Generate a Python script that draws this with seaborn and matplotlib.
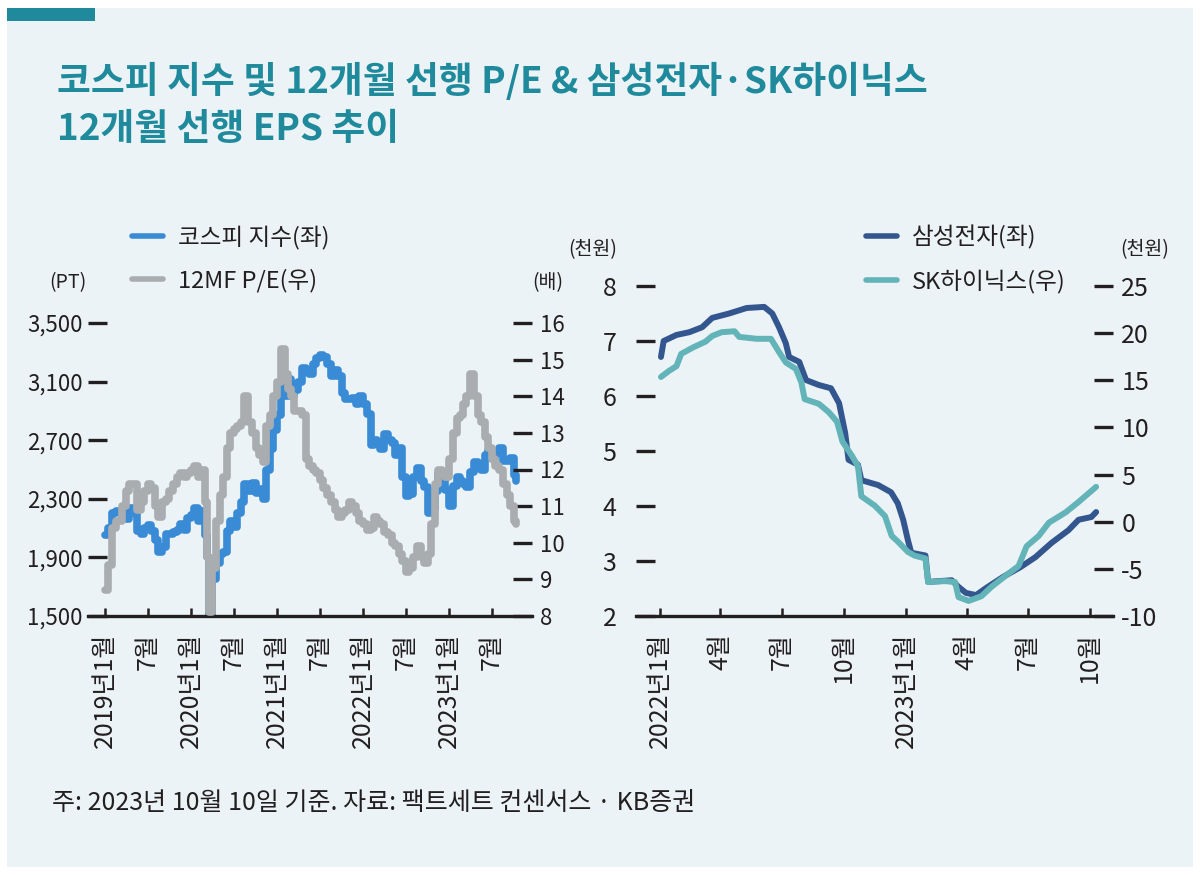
import matplotlib
matplotlib.use('Agg')
import matplotlib.pyplot as plt
from matplotlib.patches import Rectangle
from matplotlib.lines import Line2D
from matplotlib.ticker import FuncFormatter, FixedLocator
import seaborn as sns
import pandas as pd

# ---------------- data ----------------
left_dates = [
    '2019-01-01', '2019-01-15', '2019-02-01', '2019-02-15', '2019-03-01', '2019-03-15',
    '2019-04-01', '2019-04-15', '2019-05-01', '2019-05-15', '2019-06-01', '2019-06-15',
    '2019-07-01', '2019-07-15', '2019-08-01', '2019-08-15', '2019-09-01', '2019-09-15',
    '2019-10-01', '2019-10-15', '2019-11-01', '2019-11-15', '2019-12-01', '2019-12-15',
    '2020-01-01', '2020-01-15', '2020-02-01', '2020-02-15', '2020-03-01', '2020-03-10',
    '2020-03-19', '2020-04-01', '2020-04-15', '2020-05-01', '2020-05-15', '2020-06-01',
    '2020-06-15', '2020-07-01', '2020-07-15', '2020-08-01', '2020-08-15', '2020-09-01',
    '2020-09-15', '2020-10-01', '2020-10-15', '2020-11-01', '2020-11-15', '2020-12-01',
    '2020-12-15',
    '2021-01-01', '2021-01-15', '2021-02-01', '2021-02-15', '2021-03-01', '2021-03-15',
    '2021-04-01', '2021-04-15', '2021-05-01', '2021-05-15', '2021-06-01', '2021-06-15',
    '2021-07-01', '2021-07-15', '2021-08-01', '2021-08-15', '2021-09-01', '2021-09-15',
    '2021-10-01', '2021-10-15', '2021-11-01', '2021-11-15', '2021-12-01', '2021-12-15',
    '2022-01-01', '2022-01-15', '2022-02-01', '2022-02-15', '2022-03-01', '2022-03-15',
    '2022-04-01', '2022-04-15', '2022-05-01', '2022-05-15', '2022-06-01', '2022-06-15',
    '2022-07-01', '2022-07-15', '2022-08-01', '2022-08-15', '2022-09-01', '2022-09-15',
    '2022-10-01', '2022-10-15', '2022-11-01', '2022-11-15', '2022-12-01', '2022-12-15',
    '2023-01-01', '2023-01-15', '2023-02-01', '2023-02-15', '2023-03-01', '2023-03-15',
    '2023-04-01', '2023-04-15', '2023-05-01', '2023-05-15', '2023-06-01', '2023-06-15',
    '2023-07-01', '2023-07-15', '2023-08-01', '2023-08-15', '2023-09-01', '2023-09-15',
    '2023-10-01', '2023-10-10',
]
kospi = [
    2050, 2100, 2200, 2220, 2210, 2170, 2160, 2240, 2200, 2080, 2060, 2100,
    2120, 2080, 2020, 1940, 1970, 2060, 2060, 2070, 2090, 2130, 2090, 2170,
    2190, 2240, 2150, 2220, 2050, 1900, 1480, 1750, 1860, 1920, 1940, 2080,
    2150, 2110, 2200, 2280, 2400, 2350, 2410, 2340, 2370, 2300, 2500, 2640,
    2770,
    2870, 3100, 3000, 3120, 3000, 3040, 3100, 3190, 3180, 3150, 3220, 3260,
    3280, 3270, 3220, 3140, 3180, 3140, 3020, 2980, 2980, 2990, 2950, 3000,
    2950, 2880, 2670, 2700, 2680, 2640, 2740, 2700, 2680, 2600, 2650, 2450,
    2320, 2330, 2450, 2510, 2420, 2380, 2200, 2230, 2350, 2470, 2430, 2360,
    2250, 2390, 2450, 2420, 2400, 2380, 2480, 2550, 2520, 2500, 2600, 2630,
    2570, 2610, 2650, 2560, 2560, 2580, 2460, 2420,
]
pe_ratio = [
    8.7, 9.4, 10.4, 10.6, 10.6, 11.0, 11.4, 11.6, 11.6, 10.9, 11.1, 11.4,
    11.6, 11.5, 11.0, 10.7, 11.1, 11.2, 11.4, 11.6, 11.8, 11.9, 11.8, 11.9,
    12.0, 12.1, 11.8, 12.0, 11.1, 9.6, 8.1, 9.3, 10.6, 11.3, 11.8, 12.6,
    13.0, 13.1, 13.2, 13.3, 14.0, 13.3, 13.0, 12.6, 12.4, 12.2, 13.2, 13.5,
    14.0,
    14.4, 15.3, 14.6, 14.2, 14.0, 13.6, 13.6, 13.5, 12.3, 12.1, 12.0, 11.9,
    11.7, 11.5, 11.3, 11.1, 10.9, 10.7, 10.8, 10.9, 11.1, 11.0, 10.8, 10.6,
    10.5, 10.35, 10.4, 10.7, 10.6, 10.5, 10.3, 10.2, 10.0, 9.9, 9.7, 9.5,
    9.2, 9.3, 9.6, 9.9, 9.6, 9.45, 9.7, 10.5, 11.6, 12.0, 11.9, 11.8,
    12.3, 13.0, 13.4, 13.5, 13.8, 14.0, 14.6, 14.0, 13.5, 13.3, 12.9, 12.6,
    12.3, 12.1, 12.0, 11.6, 11.3, 11.0, 10.6, 10.5,
]

samsung_dates = [
    '2022-01-03', '2022-01-07', '2022-01-26', '2022-02-14', '2022-03-05', '2022-03-20',
    '2022-04-14', '2022-05-10', '2022-06-05', '2022-06-17', '2022-06-27', '2022-07-07',
    '2022-07-12', '2022-07-27', '2022-08-06', '2022-08-25', '2022-09-12', '2022-09-24',
    '2022-10-03', '2022-10-08', '2022-10-22', '2022-10-27', '2022-11-21', '2022-12-10',
    '2022-12-20', '2022-12-28', '2023-01-04', '2023-01-09', '2023-01-30', '2023-02-03',
    '2023-03-10', '2023-03-20', '2023-03-31', '2023-04-15', '2023-04-30', '2023-05-25',
    '2023-06-20', '2023-07-12', '2023-08-05', '2023-08-30', '2023-09-14', '2023-10-03',
    '2023-10-10',
]
samsung_eps = [
    6.71, 7.00, 7.11, 7.16, 7.25, 7.42, 7.50, 7.60, 7.62, 7.50, 7.25, 6.96,
    6.71, 6.62, 6.29, 6.20, 6.14, 5.87, 5.33, 4.84, 4.75, 4.47, 4.38, 4.25,
    4.05, 3.75, 3.38, 3.15, 3.10, 2.62, 2.65, 2.53, 2.42, 2.38, 2.51, 2.71,
    2.89, 3.07, 3.33, 3.56, 3.75, 3.80, 3.89,
]

hynix_dates = [
    '2022-01-03', '2022-01-15', '2022-01-26', '2022-02-02', '2022-02-20', '2022-03-10',
    '2022-03-20', '2022-04-03', '2022-04-22', '2022-04-29', '2022-05-25', '2022-06-15',
    '2022-06-27', '2022-07-07', '2022-07-22', '2022-07-30', '2022-08-04', '2022-08-25',
    '2022-09-09', '2022-09-21', '2022-09-29', '2022-10-13', '2022-10-22', '2022-10-27',
    '2022-11-16', '2022-12-01', '2022-12-11', '2022-12-20', '2023-01-04', '2023-01-14',
    '2023-01-30', '2023-02-03', '2023-02-28', '2023-03-15', '2023-03-20', '2023-04-04',
    '2023-04-23', '2023-05-08', '2023-06-02', '2023-06-17', '2023-06-29', '2023-07-17',
    '2023-08-01', '2023-08-26', '2023-09-14', '2023-10-10',
]
hynix_eps = [
    15.35, 16.0, 16.5, 17.8, 18.5, 19.1, 19.7, 20.1, 20.2, 19.6, 19.4, 19.4,
    18.0, 16.9, 16.2, 14.8, 13.0, 12.5, 11.6, 10.6, 8.5, 7.0, 5.9, 2.7,
    1.7, 0.6, -1.5, -2.1, -3.2, -3.6, -3.9, -6.4, -6.3, -6.4, -8.0, -8.4,
    -7.9, -6.9, -5.5, -4.7, -2.6, -1.5, -0.1, 1.0, 2.1, 3.7,
]

left_xticks = ['2019-01-01', '2019-07-01', '2020-01-01', '2020-07-01', '2021-01-01',
               '2021-07-01', '2022-01-01', '2022-07-01', '2023-01-01', '2023-07-01']
left_xlabels = ['2019년1월', '7월', '2020년1월', '7월', '2021년1월', '7월',
                '2022년1월', '7월', '2023년1월', '7월']
right_xticks = ['2022-01-01', '2022-04-01', '2022-07-01', '2022-10-01',
                '2023-01-01', '2023-04-01', '2023-07-01', '2023-10-01']
right_xlabels = ['2022년1월', '4월', '7월', '10월', '2023년1월', '4월', '7월', '10월']

kospi_ticks = [1500, 1900, 2300, 2700, 3100, 3500]
pe_ticks = [8, 9, 10, 11, 12, 13, 14, 15, 16]
sam_ticks = [2, 3, 4, 5, 6, 7, 8]
hyn_ticks = [-10, -5, 0, 5, 10, 15, 20, 25]

title_lines = ['코스피 지수 및 12개월 선행 P/E & 삼성전자·SK하이닉스', '12개월 선행 EPS 추이']
footnote = '주: 2023년 10월 10일 기준. 자료: 팩트세트 컨센서스 · KB증권'

# ---------------- style ----------------
C_BLUE = '#3A8BD5'
C_GRAY = '#A9ADB0'
C_NAVY = '#34568F'
C_TEAL = '#62B4B9'
C_DARK = '#231F20'
C_TITLE = '#1E8A9B'
C_BG = '#ECF3F6'

sns.set_theme(style='white')
plt.rcParams['font.family'] = ['Liberation Sans Narrow', 'Noto Sans CJK KR', 'DejaVu Sans']
plt.rcParams['axes.unicode_minus'] = False
KR = ['Noto Sans CJK KR', 'DejaVu Sans']

W, H = 1200, 875
fig = plt.figure(figsize=(W / 100, H / 100), dpi=100, facecolor='white')

def fx(px):
    return px / W

def fy(py):
    return 1 - py / H

fig.add_artist(Rectangle((fx(7), fy(867)), fx(1193) - fx(7), fy(8) - fy(867),
                         transform=fig.transFigure, facecolor=C_BG, edgecolor='none', zorder=0))
fig.add_artist(Rectangle((fx(7), fy(21)), fx(95) - fx(7), fy(8) - fy(21),
                         transform=fig.transFigure, facecolor=C_TITLE, edgecolor='none', zorder=1))

fig.text(fx(57), fy(93), title_lines[0], fontsize=26.5, fontweight='bold', color=C_TITLE,
         family=KR, va='baseline', ha='left')
fig.text(fx(57), fy(140), title_lines[1], fontsize=26.5, fontweight='bold', color=C_TITLE,
         family=KR, va='baseline', ha='left')
fig.text(fx(52), fy(803), footnote, fontsize=18, color=C_DARK, family=KR, va='center', ha='left')

df_left = pd.DataFrame({'date': pd.to_datetime(left_dates), 'kospi': kospi, 'pe': pe_ratio})
df_sam = pd.DataFrame({'date': pd.to_datetime(samsung_dates), 'eps': samsung_eps})
df_hyn = pd.DataFrame({'date': pd.to_datetime(hynix_dates), 'eps': hynix_eps})

TICK_FS = 16
XTICK_FS = 18

def style_axes(ax, twin):
    for a in (ax, twin):
        a.set_facecolor('none')
        for s in ('top', 'left', 'right'):
            a.spines[s].set_visible(False)
        a.set_xlabel('')
        a.set_ylabel('')
    twin.spines['bottom'].set_visible(False)
    ax.spines['bottom'].set_color(C_DARK)
    ax.spines['bottom'].set_linewidth(2.4)
    ax.tick_params(axis='y', direction='in', length=14, width=2.4, color=C_DARK,
                   labelsize=TICK_FS, labelcolor=C_DARK, pad=4, left=True)
    twin.tick_params(axis='y', direction='in', length=14, width=2.4, color=C_DARK,
                     labelsize=TICK_FS, labelcolor=C_DARK, pad=6, right=True)
    ax.tick_params(axis='x', direction='in', length=6, width=1.8, color=C_DARK,
                   labelsize=XTICK_FS, labelcolor=C_DARK, pad=12, bottom=True)
    twin.tick_params(axis='x', bottom=False, labelbottom=False)

# ---------------- left chart ----------------
axL = fig.add_axes([fx(88), fy(616), fx(532) - fx(88), fy(323) - fy(616)])
axL2 = axL.twinx()
sns.lineplot(data=df_left, x='date', y='kospi', ax=axL, color=C_BLUE, linewidth=5.5,
             drawstyle='steps-post', legend=False, zorder=2)
sns.lineplot(data=df_left, x='date', y='pe', ax=axL2, color=C_GRAY, linewidth=5.5,
             drawstyle='steps-post', legend=False, zorder=3)
axL.set_xlim(pd.Timestamp('2018-10-21'), pd.Timestamp('2023-12-18'))
axL.set_ylim(1500, 3500)
axL2.set_ylim(8, 16)
axL.yaxis.set_major_locator(FixedLocator(kospi_ticks))
axL.yaxis.set_major_formatter(FuncFormatter(lambda v, p: f'{int(v):,}'))
axL2.yaxis.set_major_locator(FixedLocator(pe_ticks))
axL2.yaxis.set_major_formatter(FuncFormatter(lambda v, p: f'{int(v)}'))
axL.set_xticks(pd.to_datetime(left_xticks))
axL.set_xticklabels(left_xlabels, rotation=90, va='top', ha='center')
style_axes(axL, axL2)

fig.text(fx(68), fy(283), '(PT)', fontsize=14, color=C_DARK, ha='center', va='center')
fig.text(fx(548), fy(283), '(배)', fontsize=14, color=C_DARK, ha='center', va='center', family=KR)

hL = [Line2D([], [], color=C_BLUE, lw=4), Line2D([], [], color=C_GRAY, lw=4)]
legL = axL.legend(hL, ['코스피 지수(좌)', '12MF P/E(우)'], loc='upper left',
                  bbox_to_anchor=(fx(132), fy(225)), bbox_transform=fig.transFigure,
                  frameon=False, prop={'family': KR, 'size': 17}, handlelength=1.3,
                  handletextpad=0.65, labelspacing=0.85, borderpad=0, borderaxespad=0)
for t in legL.get_texts():
    t.set_color(C_DARK)

# ---------------- right chart ----------------
axR = fig.add_axes([fx(636), fy(616), fx(1113) - fx(636), fy(286) - fy(616)])
axR2 = axR.twinx()
sns.lineplot(data=df_sam, x='date', y='eps', ax=axR, color=C_NAVY, linewidth=4.3,
             legend=False, zorder=2)
sns.lineplot(data=df_hyn, x='date', y='eps', ax=axR2, color=C_TEAL, linewidth=4.3,
             legend=False, zorder=3)
axR.set_xlim(pd.Timestamp('2021-11-27'), pd.Timestamp('2023-11-04'))
axR.set_ylim(2, 8)
axR2.set_ylim(-10, 25)
axR.yaxis.set_major_locator(FixedLocator(sam_ticks))
axR.yaxis.set_major_formatter(FuncFormatter(lambda v, p: f'{int(v)}'))
axR2.yaxis.set_major_locator(FixedLocator(hyn_ticks))
axR2.yaxis.set_major_formatter(FuncFormatter(lambda v, p: f'{int(v)}'))
axR.set_xticks(pd.to_datetime(right_xticks))
axR.set_xticklabels(right_xlabels, rotation=90, va='top', ha='center')
style_axes(axR, axR2)
axR.tick_params(axis='y', labelsize=18, pad=14)
axR2.tick_params(axis='y', labelsize=18, pad=6)

fig.text(fx(593), fy(250), '(천원)', fontsize=14, color=C_DARK, ha='center', va='center', family=KR)
fig.text(fx(1145), fy(250), '(천원)', fontsize=14, color=C_DARK, ha='center', va='center', family=KR)

hR = [Line2D([], [], color=C_NAVY, lw=4), Line2D([], [], color=C_TEAL, lw=4)]
legR = axR.legend(hR, ['삼성전자(좌)', 'SK하이닉스(우)'], loc='upper left',
                  bbox_to_anchor=(fx(866), fy(225)), bbox_transform=fig.transFigure,
                  frameon=False, prop={'family': KR, 'size': 17}, handlelength=1.3,
                  handletextpad=0.65, labelspacing=0.85, borderpad=0, borderaxespad=0)
for t in legR.get_texts():
    t.set_color(C_DARK)

fig.savefig('out.png', dpi=100, facecolor='white')
